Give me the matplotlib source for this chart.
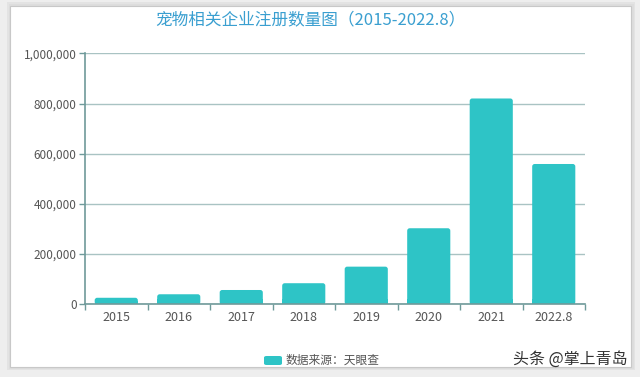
import matplotlib
matplotlib.use("Agg")
import matplotlib.pyplot as plt
from matplotlib.patches import Rectangle, FancyBboxPatch
from matplotlib.ticker import FuncFormatter, FixedLocator

plt.rcParams['font.family'] = ['Noto Sans CJK SC', 'DejaVu Sans']

categories = ["2015", "2016", "2017", "2018", "2019", "2020", "2021", "2022.8"]
values = [26000, 40000, 57000, 84000, 150000, 303000, 820000, 559000]
yticks = [0, 200000, 400000, 600000, 800000, 1000000]
title = "宠物相关企业注册数量图（2015-2022.8）"
legend_label = "数据来源：天眼查"
watermark = "头条 @掌上青岛"

W, H = 640, 377
fig = plt.figure(figsize=(W / 100, H / 100), dpi=100)
fig.patch.set_facecolor("#eeeeee")

# card with shadow
for i, (a, c) in enumerate([(0.35, "#d0d0d0"), (0.6, "#dadada")]):
    pad = 3 - i * 1.5
    fig.patches.append(Rectangle(((10 - pad) / W, 1 - (367 + pad) / H),
                                 (622 + 2 * pad) / W, (362 + 2 * pad) / H,
                                 transform=fig.transFigure, facecolor=c,
                                 edgecolor="none", alpha=a, zorder=-2))
fig.patches.append(Rectangle((10 / W, 1 - 367 / H), 621 / W, 361 / H,
                             transform=fig.transFigure, facecolor="white",
                             edgecolor="#c8c8c8", linewidth=0.8, zorder=-1))

ax = fig.add_axes([85 / W, 1 - 304.3 / H, 500 / W, 251 / H])
ax.set_zorder(2)
ax.set_facecolor("none")

bar_color = "#2ec4c6"
x = list(range(len(categories)))
bars = ax.bar(x, values, width=0.69, color=bar_color, zorder=3)
ax.set_xlim(-0.5, len(categories) - 0.5)
ax.set_ylim(0, 1000000)

# rounded tops
fig.canvas.draw()
px_x = ax.transData.transform((1, 0))[0] - ax.transData.transform((0, 0))[0]
px_y = ax.transData.transform((0, 100000))[1] - ax.transData.transform((0, 0))[1]
aspect = (100000 / px_y) / (1 / px_x)
for b in bars:
    b.set_visible(False)
    bx, by, bw, bh = b.get_x(), b.get_y(), b.get_width(), b.get_height()
    r = 0.04
    ax.add_patch(FancyBboxPatch((bx, by), bw, bh,
                                boxstyle=f"round,pad=0,rounding_size={r}",
                                mutation_aspect=aspect,
                                facecolor=bar_color, edgecolor="none", zorder=3))
    ax.add_patch(Rectangle((bx, by), bw, min(bh / 2, 20000),
                           facecolor=bar_color, edgecolor="none", zorder=3))

ax.set_yticks(yticks)
ax.yaxis.set_major_formatter(FuncFormatter(lambda v, p: f"{int(v):,}"))
ax.grid(axis="y", color="#a9c3c3", linewidth=1.0, zorder=1)
ax.set_xticks(x)
ax.set_xticklabels(categories)
ax.xaxis.set_minor_locator(FixedLocator([i - 0.5 for i in range(len(categories) + 1)]))
ax.tick_params(axis="x", which="major", length=0, pad=5, labelsize=9, labelcolor="#555555")
ax.tick_params(axis="x", which="minor", length=4, color="#6f9a9a", width=1)
ax.tick_params(axis="y", length=4, color="#6f9a9a", width=1, pad=2, labelsize=8.5, labelcolor="#555555")

for s in ["top", "right"]:
    ax.spines[s].set_visible(False)
for s in ["left", "bottom"]:
    ax.spines[s].set_color("#6f9a9a")
    ax.spines[s].set_linewidth(1.2)
    ax.spines[s].set_zorder(4)

fig.text(310 / W, 1 - 20 / H, title, ha="center", va="center",
         fontsize=12, color="#3a9fd0")

# legend
fig.patches.append(FancyBboxPatch((264 / W, 1 - 365 / H), 18 / W, 9 / H,
                                  boxstyle="round,pad=0,rounding_size=0.004",
                                  transform=fig.transFigure, facecolor=bar_color,
                                  edgecolor="none", zorder=2))
fig.text(286 / W, 1 - 360.5 / H, legend_label, ha="left", va="center",
         fontsize=8.5, color="#555555")

fig.text(628 / W, 1 - 359 / H, watermark, ha="right", va="center",
         fontsize=11.5, color="#333333")

fig.savefig("out.png", dpi=100)
